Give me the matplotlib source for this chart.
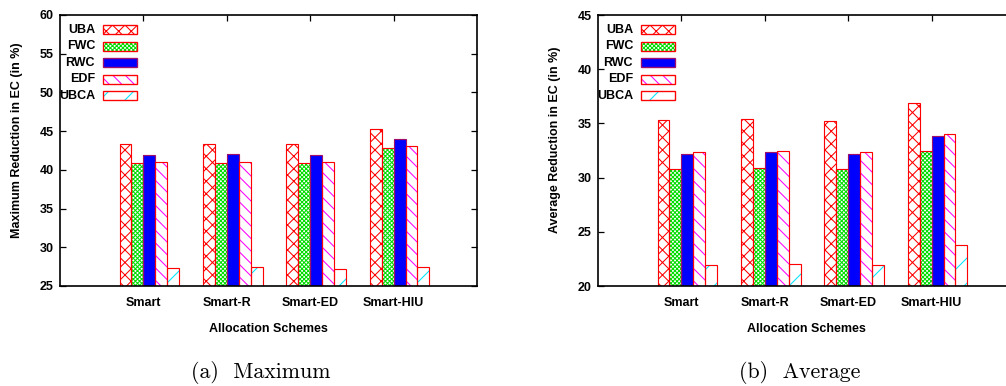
import matplotlib
matplotlib.use("Agg")
import matplotlib.pyplot as plt
import numpy as np
from matplotlib.patches import Rectangle

SCHEMES = ["Smart", "Smart-R", "Smart-ED", "Smart-HIU"]
METHODS = ["UBA", "FWC", "RWC", "EDF", "UBCA"]

# (a) maximum reduction in EC (%)
max_uba = [43.35, 43.35, 43.35, 45.25]
max_fwc = [40.85, 40.85, 40.85, 42.87]
max_rwc = [41.9, 42.0, 41.9, 43.95]
max_edf = [41.06, 41.06, 41.06, 43.1]
max_ubca = [27.3, 27.4, 27.2, 27.4]

# (b) average reduction in EC (%)
avg_uba = [35.28, 35.38, 35.23, 36.88]
avg_fwc = [30.78, 30.87, 30.78, 32.47]
avg_rwc = [32.2, 32.32, 32.2, 33.82]
avg_edf = [32.38, 32.47, 32.35, 34.06]
avg_ubca = [21.9, 22.0, 21.9, 23.8]

# face, hatch, hatch colour, border
STYLES = {
    "UBA": ("white", "xx", "#ff0000", "#ff0000"),
    "FWC": ("white", "xxxxxx", "#00dd00", "#ff0000"),
    "RWC": ("#0000ff", "", "#0000ff", "#a0106a"),
    "EDF": ("white", "\\\\", "#ff00ff", "#ff0000"),
    "UBCA": ("white", "/", "#00e5ff", "#ff0000"),
}

DPI = 75
plt.rcParams["font.family"] = ["Liberation Sans", "DejaVu Sans"]
plt.rcParams["font.weight"] = "bold"
plt.rcParams["hatch.linewidth"] = 1.0

AX_W, AX_H = 417.0, 271.0  # axes size in pixels


def draw_panel(ax, series, ylim, ylabel):
    x = np.arange(len(SCHEMES))
    width = 1 / 7
    for i, (name, values) in enumerate(zip(METHODS, series)):
        face, hatch, hcol, edge = STYLES[name]
        left = x - 2 / 7 + i * width
        ax.bar(left, values, width, align="edge", color=face, hatch=hatch,
               edgecolor=hcol, linewidth=0, zorder=2)
        ax.bar(left, values, width, align="edge", fill=False,
               edgecolor=edge, linewidth=1.1, zorder=3)

    ax.set_xlim(-1, 4)
    ax.set_ylim(*ylim)
    ax.set_yticks(np.arange(ylim[0], ylim[1] + 1, 5))
    ax.set_xticks(x)
    ax.set_xticklabels(SCHEMES)
    ax.tick_params(axis="y", direction="in", right=True, length=6, width=1.2,
                   pad=6, labelsize=12)
    ax.tick_params(axis="x", direction="in", top=True, bottom=False, length=6,
                   width=1.2, pad=11, labelsize=12)
    for spine in ax.spines.values():
        spine.set_linewidth(1.6)
        spine.set_zorder(5)

    ax.set_ylabel(ylabel, fontsize=12, fontweight="bold")
    ax.yaxis.set_label_coords(-0.088, 0.539)
    ax.set_xlabel("Allocation Schemes", fontsize=12, fontweight="bold")
    ax.xaxis.set_label_coords(0.5, -0.135)

    # gnuplot-style key: labels right-aligned, sample box after the label
    for i, name in enumerate(METHODS):
        face, hatch, hcol, edge = STYLES[name]
        yc = 1 - (15 + 16.4 * i) / AX_H
        x0, bw, bh = 43 / AX_W, 34 / AX_W, 9 / AX_H
        ax.text(35 / AX_W, yc, name, transform=ax.transAxes, ha="right",
                va="center", fontsize=12, fontweight="bold")
        ax.add_patch(Rectangle((x0, yc - bh / 2), bw, bh, transform=ax.transAxes,
                               facecolor=face, hatch=hatch, edgecolor=hcol,
                               linewidth=0, zorder=6))
        ax.add_patch(Rectangle((x0, yc - bh / 2), bw, bh, transform=ax.transAxes,
                               fill=False, edgecolor=edge, linewidth=1.3, zorder=7))


fig = plt.figure(figsize=(1006 / DPI, 386 / DPI), dpi=DPI)
ax1 = fig.add_axes([60 / 1006, 100 / 386, AX_W / 1006, AX_H / 386])
ax2 = fig.add_axes([598 / 1006, 100 / 386, AX_W / 1006, AX_H / 386])

draw_panel(ax1, [max_uba, max_fwc, max_rwc, max_edf, max_ubca], (25, 60),
           "Maximum Reduction in EC (in %)")
draw_panel(ax2, [avg_uba, avg_fwc, avg_rwc, avg_edf, avg_ubca], (20, 45),
           "Average Reduction in EC (in %)")

fig.text(261 / 1006, 1 - 372 / 386, "(a)  Maximum", ha="center", va="center",
         family="cmr10", fontweight="normal", fontsize=21)
fig.text(800 / 1006, 1 - 372 / 386, "(b)  Average", ha="center", va="center",
         family="cmr10", fontweight="normal", fontsize=21)

fig.savefig("out.png", dpi=DPI)
